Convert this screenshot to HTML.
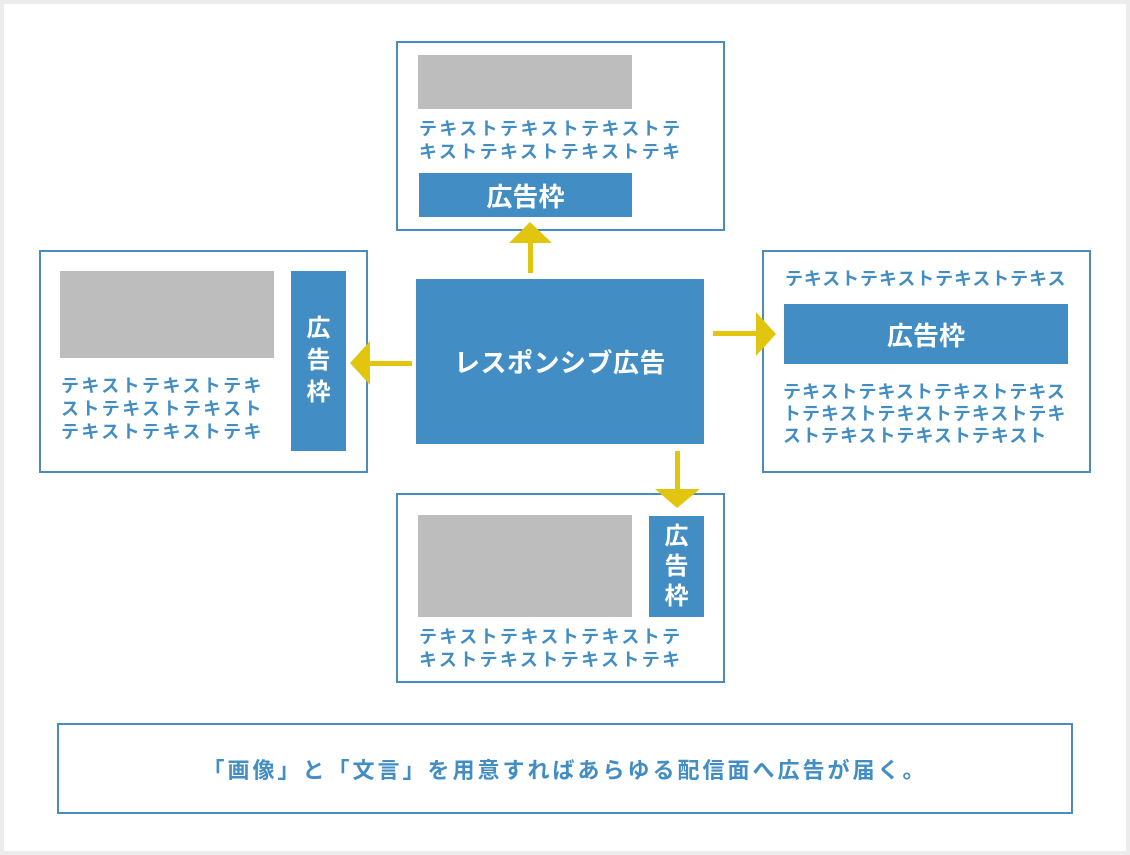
<!DOCTYPE html>
<html><head><meta charset="utf-8"><style>
body{margin:0;width:1130px;height:855px;background:#ececec;position:relative;overflow:hidden;font-family:"Liberation Sans","Noto Sans CJK JP",sans-serif;font-weight:bold}
.a{position:absolute;box-sizing:border-box}
.bx{border:2px solid #4a8cc0;background:#fff}
.g{background:#bdbdbd}
.bl{background:#428dc3;color:#fff;display:flex;align-items:center;justify-content:center}
.t{color:#428dc3;font-size:18px;line-height:23px;white-space:nowrap;letter-spacing:2.4px}
.v{flex-direction:column;font-size:24px;line-height:32px}
</style></head><body>
<div class="a" style="left:4px;top:4px;width:1122px;height:847px;background:#fff"></div>

<div class="a bx" style="left:396px;top:41px;width:329px;height:190px"></div>
<div class="a g" style="left:418px;top:55px;width:214px;height:54px"></div>
<div class="a t" style="left:419px;top:118px">テキストテキストテキストテ<br>キストテキストテキストテキ</div>
<div class="a bl" style="left:419px;top:173px;width:213px;height:44px;font-size:26px">広告枠</div>

<div class="a bx" style="left:39px;top:250px;width:329px;height:223px"></div>
<div class="a g" style="left:60px;top:271px;width:214px;height:87px"></div>
<div class="a t" style="left:61px;top:375px">テキストテキストテキ<br>ストテキストテキスト<br>テキストテキストテキ</div>
<div class="a bl v" style="left:291px;top:271px;width:55px;height:180px">広<br>告<br>枠</div>

<div class="a bx" style="left:762px;top:250px;width:329px;height:223px"></div>
<div class="a t" style="left:785px;top:268px;letter-spacing:0.9px">テキストテキストテキストテキス</div>
<div class="a bl" style="left:784px;top:304px;width:284px;height:60px;font-size:26px">広告枠</div>
<div class="a t" style="left:783px;top:381px;line-height:22px;letter-spacing:1px">テキストテキストテキストテキス<br>トテキストテキストテキストテキ<br>ストテキストテキストテキスト</div>

<div class="a bx" style="left:396px;top:493px;width:329px;height:190px"></div>
<div class="a g" style="left:418px;top:515px;width:214px;height:102px"></div>
<div class="a bl v" style="left:649px;top:516px;width:55px;height:101px;line-height:30px">広<br>告<br>枠</div>
<div class="a t" style="left:419px;top:626px">テキストテキストテキストテ<br>キストテキストテキストテキ</div>

<div class="a bl" style="left:416px;top:279px;width:288px;height:165px;font-size:26px;letter-spacing:0.5px">レスポンシブ広告</div>

<svg class="a" style="left:0;top:0" width="1130" height="855">
<g fill="#e2c60e">
<rect x="528" y="240" width="5" height="33"/><polygon points="509,243 552,243 530,222"/>
<rect x="369" y="361" width="43" height="5"/><polygon points="370,341 370,385 350,363"/>
<rect x="713" y="331" width="44" height="5"/><polygon points="756,312 756,356 776,334"/>
<rect x="675" y="451" width="5" height="39"/><polygon points="655,489 700,489 677,508"/>
</g></svg>

<div class="a bx" style="left:57px;top:723px;width:1016px;height:91px;display:flex;align-items:center;justify-content:center;color:#428dc3;font-size:22px;letter-spacing:3px">「画像」と「文言」を用意すればあらゆる配信面へ広告が届く。</div>
</body></html>
